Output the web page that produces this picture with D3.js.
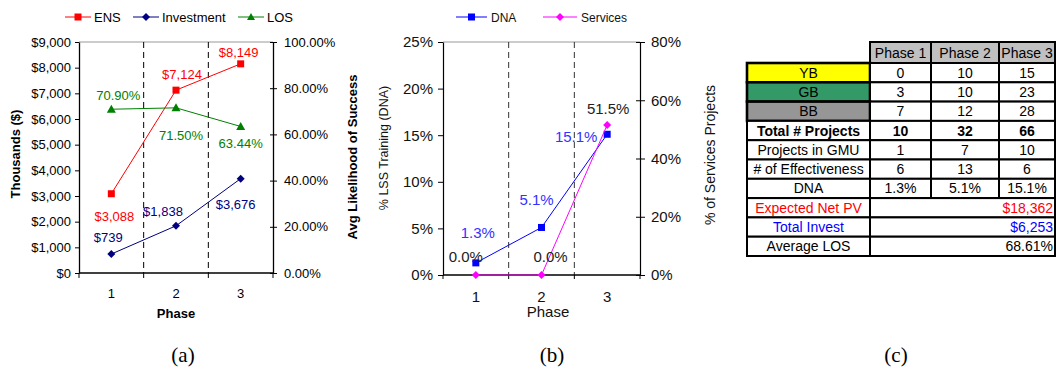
<!DOCTYPE html>
<html><head><meta charset="utf-8">
<script src="https://cdn.jsdelivr.net/npm/d3@7"></script>
<style>
body{margin:0;background:#fff;}
svg{display:block;font-family:Arial,"Liberation Sans",sans-serif;}
</style></head><body>
<svg id="c" width="1061" height="381"></svg>
<script>
// ---------- data ----------
const phases = [1, 2, 3];
const ens = [3088, 7124, 8149];
const investment = [739, 1838, 3676];
const los = [0.709, 0.715, 0.6344];
const leftTicksA = [0,1000,2000,3000,4000,5000,6000,7000,8000,9000];
const rightTicksA = [0,0.2,0.4,0.6,0.8,1.0];

const dna = [0.013, 0.051, 0.151];
const services = [0, 0, 0.515];
const leftTicksB = [0,0.05,0.10,0.15,0.20,0.25];
const rightTicksB = [0,0.2,0.4,0.6,0.8];

const tableHeader = ["Phase 1", "Phase 2", "Phase 3"];
const tableRowLabels = ["YB","GB","BB","Total # Projects","Projects in GMU","# of Effectiveness","DNA"];
const tableRowValues = [["0","10","15"],["3","10","23"],["7","12","28"],["10","32","66"],["1","7","10"],["6","13","6"],["1.3%","5.1%","15.1%"]];
const tableSummaryLabels = ["Expected Net PV","Total Invest","Average LOS"];
const tableSummaryValues = ["$18,362","$6,253","68.61%"];

const svg = d3.select("#c");
const fmtD = d3.format("$,.0f");

function bandAxis(g, x, y0, xs, tickLen){
  const edges = [x.range()[0]].concat(xs.map(d=>x(d)+x.bandwidth()));
  g.selectAll(".bt").data(edges).enter().append("line")
    .attr("x1",d=>d).attr("x2",d=>d).attr("y1",y0).attr("y2",y0+tickLen).attr("stroke","#000");
  g.append("line").attr("x1",x.range()[0]).attr("x2",x.range()[1]).attr("y1",y0).attr("y2",y0).attr("stroke","#000").attr("stroke-width",1.3);
}

function marker(g, type, cx, cy, color, s){
  if(type==="square") g.append("rect").attr("x",cx-s/2).attr("y",cy-s/2).attr("width",s).attr("height",s).attr("fill",color);
  else if(type==="diamond") g.append("path").attr("d",`M${cx},${cy-s/2}L${cx+s/2},${cy}L${cx},${cy+s/2}L${cx-s/2},${cy}Z`).attr("fill",color);
  else if(type==="triangle") g.append("path").attr("d",`M${cx},${cy-s/2}L${cx+s/2},${cy+s/2-1}L${cx-s/2},${cy+s/2-1}Z`).attr("fill",color);
}

// ================= Chart (a) =================
(function(){
  const L=79,R=273,T=42,B=273;
  const g = svg.append("g");
  const x = d3.scaleBand().domain(phases).range([L,R]);
  const yL = d3.scaleLinear().domain([0,9000]).range([B,T]);
  const yR = d3.scaleLinear().domain([0,1]).range([B,T]);
  const cx = d => x(d)+x.bandwidth()/2;

  g.append("line").attr("x1",L).attr("x2",R).attr("y1",T).attr("y2",T).attr("stroke","#999");
  phases.slice(0,-1).forEach(p=>{
    const xx = x(p)+x.bandwidth();
    g.append("line").attr("x1",xx).attr("x2",xx).attr("y1",T).attr("y2",B).attr("stroke","#000").attr("stroke-dasharray","6,4");
  });
  const la = g.append("g").attr("transform",`translate(${L},0)`)
    .call(d3.axisLeft(yL).tickValues(leftTicksA).tickFormat(fmtD).tickSize(4).tickSizeOuter(0));
  la.select(".domain").attr("stroke-width",1.3);
  la.selectAll("text").attr("font-size",13).attr("fill","#000").attr("font-family","Arial, Liberation Sans").attr("dx",-1);
  const ra = g.append("g").attr("transform",`translate(${R},0)`)
    .call(d3.axisRight(yR).tickValues(rightTicksA).tickFormat(d3.format(".2%")).tickSize(4).tickSizeOuter(0));
  ra.select(".domain").attr("stroke-width",1.3);
  ra.selectAll(".tick line").attr("x1",-3);
  ra.selectAll("text").attr("font-size",13).attr("fill","#000").attr("font-family","Arial, Liberation Sans").attr("dx",4);
  bandAxis(g, x, B, phases, 5);
  g.selectAll(".xl").data(phases).enter().append("text").attr("x",cx).attr("y",298)
    .attr("text-anchor","middle").attr("font-size",13).text(d=>d);
  g.append("text").attr("x",176).attr("y",318).attr("text-anchor","middle").attr("font-size",13).attr("font-weight","bold").text("Phase");
  g.append("text").attr("transform","translate(20,154) rotate(-90)").attr("text-anchor","middle").attr("font-size",13).attr("font-weight","bold").text("Thousands ($)");
  g.append("text").attr("transform","translate(357,157) rotate(-90)").attr("text-anchor","middle").attr("font-size",13).attr("font-weight","bold").text("Avg Likelihood of Success");

  const series = [
    {vals:ens, y:yL, color:"#FF0000", m:"square", s:7},
    {vals:investment, y:yL, color:"#000080", m:"diamond", s:8},
    {vals:los, y:yR, color:"#008000", m:"triangle", s:9}
  ];
  series.forEach(se=>{
    const line = d3.line().x((d,i)=>cx(phases[i])).y(d=>se.y(d));
    g.append("path").attr("d",line(se.vals)).attr("fill","none").attr("stroke",se.color).attr("stroke-width",1);
    se.vals.forEach((v,i)=>marker(g,se.m,cx(phases[i]),se.y(v),se.color,se.s));
  });
  const lab = (t,xx,yy,c)=>g.append("text").attr("x",xx).attr("y",yy).attr("text-anchor","middle").attr("font-size",13).attr("fill",c).text(t);
  const offE = [[3,27],[6,-11],[-2,-7]];
  ens.forEach((v,i)=>lab(fmtD(v), cx(phases[i])+offE[i][0], yL(v)+offE[i][1], "#FF0000"));
  const offI = [[-3,-12],[-13,-10],[-5,30]];
  investment.forEach((v,i)=>lab(fmtD(v), cx(phases[i])+offI[i][0], yL(v)+offI[i][1], "#000080"));
  const offL = [[7,-9],[5,32],[0,21.5]];
  los.forEach((v,i)=>lab(d3.format(".2%")(v), cx(phases[i])+offL[i][0], yR(v)+offL[i][1], "#008000"));

  const leg = [{n:"ENS",c:"#FF0000",m:"square",x:65,s:7},{n:"Investment",c:"#000080",m:"diamond",x:133,s:8},{n:"LOS",c:"#008000",m:"triangle",x:238,s:8}];
  leg.forEach(l=>{
    g.append("line").attr("x1",l.x).attr("x2",l.x+26).attr("y1",17).attr("y2",17).attr("stroke",l.c);
    marker(g,l.m,l.x+13,17,l.c,l.s);
    g.append("text").attr("x",l.x+29).attr("y",22).attr("font-size",13).text(l.n);
  });
})();

// ================= Chart (b) =================
(function(){
  const L=443,R=640,T=42,B=275;
  const g = svg.append("g");
  const x = d3.scaleBand().domain(phases).range([L,R]);
  const yL = d3.scaleLinear().domain([0,0.25]).range([B,T]);
  const yR = d3.scaleLinear().domain([0,0.8]).range([B,T]);
  const cx = d => x(d)+x.bandwidth()/2;
  const tc = "#111";

  g.append("line").attr("x1",L).attr("x2",R).attr("y1",T).attr("y2",T).attr("stroke","#999");
  phases.slice(0,-1).forEach(p=>{
    const xx = x(p)+x.bandwidth();
    g.append("line").attr("x1",xx).attr("x2",xx).attr("y1",T).attr("y2",B).attr("stroke","#333").attr("stroke-dasharray","6,4");
  });
  const la = g.append("g").attr("transform",`translate(${L},0)`)
    .call(d3.axisLeft(yL).tickValues(leftTicksB).tickFormat(d3.format(".0%")).tickSize(5).tickSizeOuter(0));
  la.select(".domain").attr("stroke-width",1.2);
  la.selectAll("text").attr("font-size",15).attr("fill",tc).attr("font-family","Arial, Liberation Sans").attr("dx",-2);
  const ra = g.append("g").attr("transform",`translate(${R},0)`)
    .call(d3.axisRight(yR).tickValues(rightTicksB).tickFormat(d3.format(".0%")).tickSize(5).tickSizeOuter(0));
  ra.select(".domain").attr("stroke-width",1.2);
  ra.selectAll(".tick line").attr("x1",-4);
  ra.selectAll("text").attr("font-size",15).attr("fill",tc).attr("font-family","Arial, Liberation Sans").attr("dx",3);
  bandAxis(g, x, B, phases, 4);
  g.selectAll(".xl").data(phases).enter().append("text").attr("x",cx).attr("y",302)
    .attr("text-anchor","middle").attr("font-size",15).attr("fill",tc).text(d=>d);
  g.append("text").attr("x",548).attr("y",317).attr("text-anchor","middle").attr("font-size",15).attr("fill",tc).text("Phase");
  g.append("text").attr("transform","translate(388,148) rotate(-90)").attr("text-anchor","middle").attr("font-size",12.5).attr("fill",tc).text("% LSS Training (DNA)");
  g.append("text").attr("transform","translate(715,155) rotate(-90)").attr("text-anchor","middle").attr("font-size",14).attr("fill",tc).text("% of Services Projects");

  const series = [
    {vals:dna, y:yL, color:"#0000FF", m:"square", s:7},
    {vals:services, y:yR, color:"#FF00FF", m:"diamond", s:8}
  ];
  series.forEach(se=>{
    const line = d3.line().x((d,i)=>cx(phases[i])).y(d=>se.y(d));
    g.append("path").attr("d",line(se.vals)).attr("fill","none").attr("stroke",se.color).attr("stroke-width",1);
    se.vals.forEach((v,i)=>marker(g,se.m,cx(phases[i]),se.y(v),se.color,se.s));
  });
  const lab = (t,xx,yy,c)=>g.append("text").attr("x",xx).attr("y",yy).attr("text-anchor","middle").attr("font-size",15).attr("fill",c).text(t);
  const f1 = d3.format(".1%");
  const offD = [[2,-25],[-5,-22.5],[-31,8]];
  dna.forEach((v,i)=>lab(f1(v), cx(phases[i])+offD[i][0], yL(v)+offD[i][1], "#3333FF"));
  const offS = [[-10,-13],[9,-13],[1,-11]];
  services.forEach((v,i)=>lab(f1(v), cx(phases[i])+offS[i][0], yR(v)+offS[i][1], "#222"));

  const leg = [{n:"DNA",c:"#0000FF",m:"square",x:456,w:31,s:7},{n:"Services",c:"#FF00FF",m:"diamond",x:543,w:34,s:8}];
  leg.forEach(l=>{
    g.append("line").attr("x1",l.x).attr("x2",l.x+l.w).attr("y1",17).attr("y2",17).attr("stroke",l.c);
    marker(g,l.m,l.x+l.w/2,17,l.c,l.s);
    g.append("text").attr("x",l.x+l.w+4).attr("y",21.5).attr("font-size",12).attr("fill",tc).text(l.n);
  });
})();

// ================= Table (c) =================
(function(){
  const g = svg.append("g");
  const colX = [747, 870, 931, 999, 1055];
  const top = 42, headH = 21, rowH = 19.3;
  const fills = {"YB":"#FFFF00","GB":"#339966","BB":"#969696"};
  const summaryColors = ["#FF0000","#0000FF","#000"];
  tableHeader.forEach((h,i)=>{
    g.append("rect").attr("x",colX[i+1]).attr("y",top).attr("width",colX[i+2]-colX[i+1]).attr("height",headH)
      .attr("fill","#C0C0C0").attr("stroke","#000").attr("stroke-width",2);
    g.append("text").attr("x",(colX[i+1]+colX[i+2])/2).attr("y",top+headH/2+5).attr("text-anchor","middle").attr("font-size",14).text(h);
  });
  const y0 = top+headH;
  tableRowLabels.forEach((lbl,r)=>{
    const yy = y0 + r*rowH;
    g.append("rect").attr("x",colX[0]).attr("y",yy).attr("width",colX[1]-colX[0]).attr("height",rowH)
      .attr("fill",fills[lbl]||"#fff").attr("stroke","#000").attr("stroke-width",fills[lbl]?2.6:2);
    g.append("text").attr("x",(colX[0]+colX[1])/2).attr("y",yy+rowH/2+5).attr("text-anchor","middle").attr("font-size",14)
      .attr("font-weight",lbl==="Total # Projects"?"bold":"normal").text(lbl);
    tableRowValues[r].forEach((v,c)=>{
      g.append("rect").attr("x",colX[c+1]).attr("y",yy).attr("width",colX[c+2]-colX[c+1]).attr("height",rowH)
        .attr("fill","#fff").attr("stroke","#000").attr("stroke-width",2);
      g.append("text").attr("x",(colX[c+1]+colX[c+2])/2).attr("y",yy+rowH/2+5).attr("text-anchor","middle").attr("font-size",14)
        .attr("font-weight",lbl==="Total # Projects"?"bold":"normal").text(v);
    });
  });
  const ys = y0 + tableRowLabels.length*rowH;
  tableSummaryLabels.forEach((lbl,r)=>{
    const yy = ys + r*rowH;
    g.append("rect").attr("x",colX[0]).attr("y",yy).attr("width",colX[1]-colX[0]).attr("height",rowH)
      .attr("fill","#fff").attr("stroke","#000").attr("stroke-width",2);
    g.append("text").attr("x",(colX[0]+colX[1])/2).attr("y",yy+rowH/2+5).attr("text-anchor","middle").attr("font-size",14)
      .attr("fill",summaryColors[r]).text(lbl);
    g.append("rect").attr("x",colX[1]).attr("y",yy).attr("width",colX[4]-colX[1]).attr("height",rowH)
      .attr("fill","#fff").attr("stroke","#000").attr("stroke-width",2);
    g.append("text").attr("x",colX[4]-2).attr("y",yy+rowH/2+5).attr("text-anchor","end").attr("font-size",14)
      .attr("fill",summaryColors[r]).text(tableSummaryValues[r]);
  });
})();

[["(a)",183],["(b)",552],["(c)",896]].forEach(c=>{
  svg.append("text").attr("x",c[1]).attr("y",362).attr("text-anchor","middle")
    .attr("font-family","Liberation Serif, Times New Roman, serif").attr("font-size",21).text(c[0]);
});
</script>
</body></html>
